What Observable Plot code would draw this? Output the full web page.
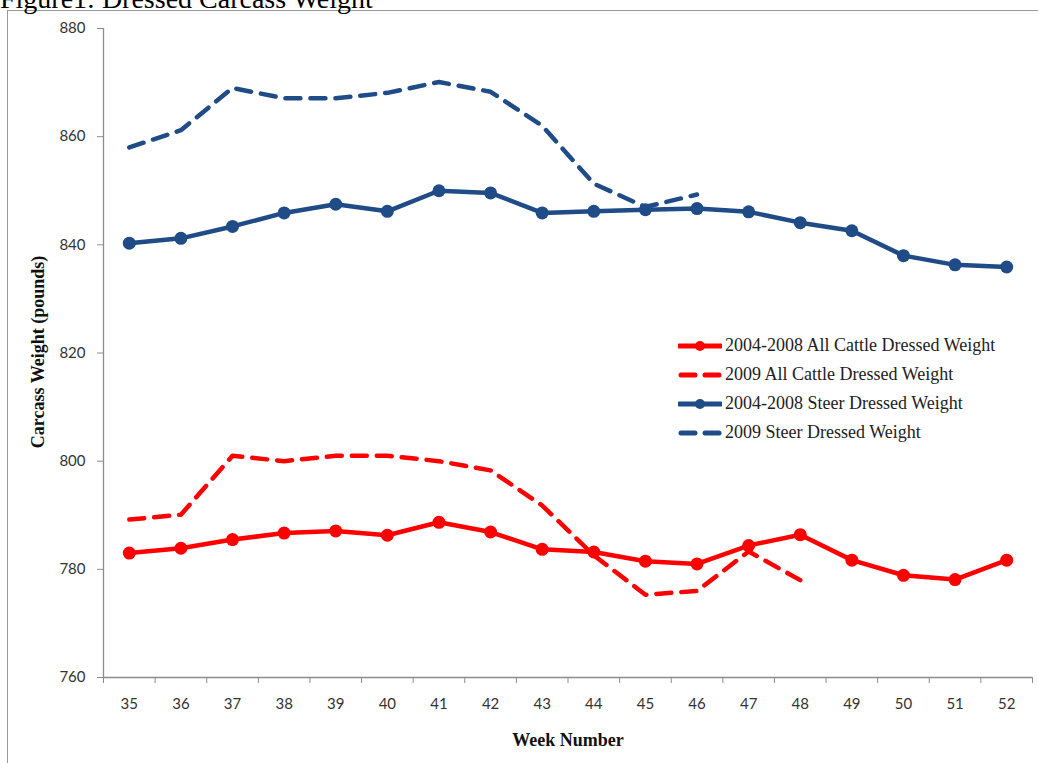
<!DOCTYPE html>
<html>
<head>
<meta charset="utf-8">
<script src="https://cdn.jsdelivr.net/npm/d3@7"></script>
<script src="https://cdn.jsdelivr.net/npm/@observablehq/plot@0.6"></script>
<style>
  html, body { margin: 0; padding: 0; background: #fff; }
  #wrap { position: relative; width: 1038px; height: 763px; overflow: hidden; background: #fff; }
  #frame { position: absolute; left: 7px; top: 10px; width: 1040px; height: 770px; border: 1px solid #9a9a9a; box-sizing: border-box; }
  #title { position: absolute; left: 0px; top: -17px; font-family: "Liberation Serif", "Times New Roman", serif; font-size: 28px; color: #000; white-space: nowrap; }
  #chart { position: absolute; left: 0; top: 0; }
  .axt { position: absolute; font-family: "Liberation Serif", "Times New Roman", serif; font-weight: bold; font-size: 18px; color: #111; white-space: nowrap; }
  #ytitle { left: 38px; top: 352px; transform: translate(-50%, -50%) rotate(-90deg); }
  #xtitle { left: 568px; top: 740px; transform: translate(-50%, -50%); }
  #legend { position: absolute; left: 678px; top: 331px; font-family: "Liberation Serif", "Times New Roman", serif; font-size: 18px; color: #222; }
  .lrow { display: flex; align-items: center; height: 29px; }
  .lrow svg { margin-right: 3px; }
</style>
</head>
<body>
<div id="wrap">
  <div id="frame"></div>
  <div id="title">Figure1: Dressed Carcass Weight</div>
  <div id="chart"></div>
  <div class="axt" id="ytitle">Carcass Weight (pounds)</div>
  <div class="axt" id="xtitle">Week Number</div>
  <div id="legend"></div>
</div>
<script>
const weeks = [35,36,37,38,39,40,41,42,43,44,45,46,47,48,49,50,51,52];
const weeks2009 = [35,36,37,38,39,40,41,42,43,44,45,46,47,48];
const cattleAvg = [783.0,783.9,785.5,786.7,787.1,786.3,788.7,786.9,783.7,783.2,781.5,781.0,784.4,786.4,781.7,778.9,778.1,781.7];
const cattle2009 = [789.2,790.1,801.0,800.0,801.0,801.0,800.0,798.3,791.8,782.6,775.3,776.0,783.3,778.0];
const steerAvg = [840.3,841.2,843.4,845.9,847.5,846.2,850.0,849.6,845.9,846.2,846.5,846.7,846.1,844.1,842.6,838.0,836.3,835.9];
const steer2009 = [858.0,861.2,869.0,867.1,867.1,868.1,870.1,868.3,862.0,851.3,847.0,849.3];
const yTicks = [760,780,800,820,840,860,880];
const seriesNames = ["2004-2008 All Cattle Dressed Weight","2009 All Cattle Dressed Weight","2004-2008 Steer Dressed Weight","2009 Steer Dressed Weight"];

const RED = "#ff0000", BLUE = "#1f4b87", AXIS = "#8c8c8c";
const zip = (xs, ys) => ys.map((v, i) => ({week: xs[i], value: v}));
const dCattleAvg = zip(weeks, cattleAvg);
const dCattle09 = zip(weeks2009, cattle2009);
const dSteerAvg = zip(weeks, steerAvg);
const dSteer09 = zip(weeks2009, steer2009);
const dash = "15,10";

const chart = Plot.plot({
  width: 1038,
  height: 763,
  marginLeft: 103,
  marginRight: 6,
  marginTop: 28,
  marginBottom: 86,
  style: {background: "transparent", fontFamily: "Lato, 'Open Sans', sans-serif", fontSize: "15px", color: "#333"},
  x: {type: "linear", domain: [34.5, 52.5]},
  y: {domain: [760, 880]},
  marks: [
    Plot.ruleX([34.5], {stroke: AXIS, strokeWidth: 1.3}),
    Plot.ruleY([760], {stroke: AXIS, strokeWidth: 1.3}),
    Plot.axisY({ticks: yTicks, tickSize: 6, tickPadding: 12, stroke: AXIS, label: null, fill: "#333"}),
    Plot.axisX({ticks: d3.range(34.5, 53, 1), tickSize: 6, tickFormat: () => "", stroke: AXIS, label: null}),
    Plot.axisX({ticks: weeks, tickSize: 0, tickPadding: 21, label: null, fill: "#333"}),
    Plot.line(dCattle09, {x: "week", y: "value", stroke: RED, strokeWidth: 4.5, strokeDasharray: dash, strokeLinecap: "round", strokeLinejoin: "round"}),
    Plot.line(dSteer09, {x: "week", y: "value", stroke: BLUE, strokeWidth: 4.5, strokeDasharray: dash, strokeLinecap: "round", strokeLinejoin: "round"}),
    Plot.line(dCattleAvg, {x: "week", y: "value", stroke: RED, strokeWidth: 4.5, strokeLinejoin: "round"}),
    Plot.dot(dCattleAvg, {x: "week", y: "value", fill: RED, r: 6.5}),
    Plot.line(dSteerAvg, {x: "week", y: "value", stroke: BLUE, strokeWidth: 4.5, strokeLinejoin: "round"}),
    Plot.dot(dSteerAvg, {x: "week", y: "value", fill: BLUE, r: 6.5})
  ]
});
document.getElementById("chart").appendChild(chart);

// Legend
const legendStyles = [
  {color: RED, dashed: false},
  {color: RED, dashed: true},
  {color: BLUE, dashed: false},
  {color: BLUE, dashed: true}
];
const legend = document.getElementById("legend");
seriesNames.forEach((name, i) => {
  const s = legendStyles[i];
  const row = document.createElement("div");
  row.className = "lrow";
  const sample = s.dashed
    ? `<line x1="3" y1="8" x2="17" y2="8" stroke="${s.color}" stroke-width="5" stroke-linecap="round"/><line x1="27" y1="8" x2="41" y2="8" stroke="${s.color}" stroke-width="5" stroke-linecap="round"/>`
    : `<line x1="1" y1="8" x2="43" y2="8" stroke="${s.color}" stroke-width="5" stroke-linecap="round"/><circle cx="22" cy="8" r="5" fill="${s.color}"/>`;
  row.innerHTML = `<svg width="44" height="16">${sample}</svg><span>${name}</span>`;
  legend.appendChild(row);
});
</script>
</body>
</html>
